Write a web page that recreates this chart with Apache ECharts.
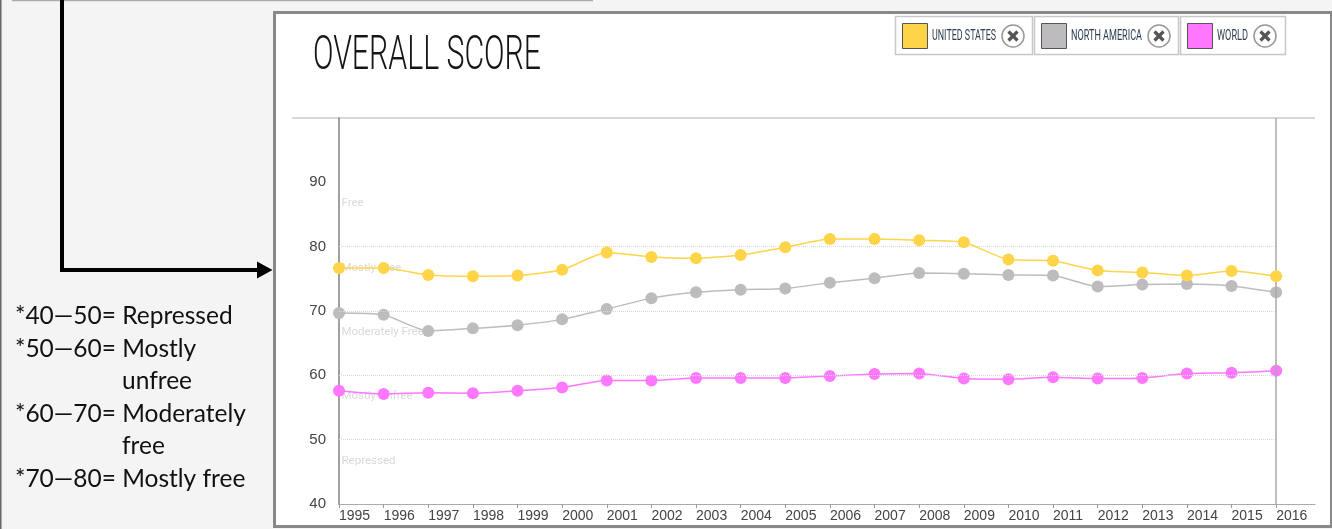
<!DOCTYPE html>
<html><head><meta charset="utf-8">
<script src="https://cdn.jsdelivr.net/npm/echarts@6/dist/echarts.min.js"></script>
<style>html,body{margin:0;padding:0;background:#f4f4f4;}#c{width:1332px;height:529px;}</style>
</head><body><div id="c"></div>
<script>
const years = [1995,1996,1997,1998,1999,2000,2001,2002,2003,2004,2005,2006,2007,2008,2009,2010,2011,2012,2013,2014,2015,2016];
const unitedStates = [76.7,76.7,75.6,75.4,75.5,76.4,79.1,78.4,78.2,78.7,79.9,81.2,81.2,81.0,80.7,78.0,77.8,76.3,76.0,75.5,76.2,75.4];
const northAmerica = [69.7,69.4,66.9,67.3,67.8,68.7,70.3,72.0,72.9,73.3,73.5,74.4,75.1,75.9,75.8,75.6,75.5,73.8,74.1,74.2,73.9,72.9];
const world = [57.6,57.1,57.3,57.2,57.6,58.1,59.2,59.2,59.6,59.6,59.6,59.9,60.2,60.3,59.5,59.4,59.7,59.5,59.6,60.3,60.4,60.7];
const seriesNames = ['UNITED STATES','NORTH AMERICA','WORLD'];
const seriesColors = ['#FFD448','#BDBBBE','#FF78FF'];
const bandNames = ['Free','Mostly Free','Moderately Free','Mostly Unfree','Repressed'];
const bandLevels = [90,80,70,60,50];
const gridLevels = [50,60,70,80];
const yMin = 40, yMax = 100, yStep = 10;
const titleText = 'OVERALL SCORE';
const noteLines = ['*40\u201450= Repressed','*50\u201460= Mostly','unfree','*60\u201470= Moderately','free','*70\u201480= Mostly free'];
const noteIndent = [0,0,1,0,1,0];

const NARROW = '"Liberation Sans Narrow", "Liberation Sans", Arial, sans-serif';
function textWidth(str, font){const c=document.createElement('canvas').getContext('2d');c.font=font;return c.measureText(str).width;}
const titleFont = '300 48px Roboto, "Liberation Sans", sans-serif';
const titleScale = 228 / textWidth(titleText, titleFont);
const legendFont = '14px Roboto, "Liberation Sans", sans-serif';
const legendTextX = [932, 1071, 1217];
const legendTextW = [64, 71, 31];

const chart = echarts.init(document.getElementById('c'));
const dataSeries = [unitedStates, northAmerica, world].map((vals,i)=>({
  name: seriesNames[i], type:'line', smooth:0.2,
  data: years.map((y,k)=>[y, vals[k]]),
  symbol:'circle', symbolSize:12, showSymbol:true,
  itemStyle:{color:seriesColors[i]},
  lineStyle:{color:seriesColors[i], width:1.5},
  z: 5 - i
}));
const lastYear = years[years.length-1];
const bandSeries = {
  name:'bands', type:'scatter', silent:true, symbolSize:1, itemStyle:{color:'rgba(0,0,0,0)'},
  data: bandLevels.map((v,i)=>({value:[years[0], v], name: bandNames[i]})),
  label:{show:true, position:'right', distance:2, offset:[0,21], formatter: p=>p.name,
    fontFamily:'Roboto, "Liberation Sans", sans-serif', fontSize:11.5, color:'#d0d0d0'},
  markLine:{silent:true, symbol:'none', animation:false, label:{show:false},
    lineStyle:{type:'dotted', color:'#d8d8d8', width:1},
    data:[...gridLevels.map(v=>[{coord:[years[0],v]},{coord:[lastYear,v]}]),
      {xAxis:lastYear, lineStyle:{type:'solid', color:'#aaaaaa', width:1.5}}]},
  z:1
};
const legendLeft = [902, 1041, 1187];
const legends = seriesNames.map((n,i)=>({
  data:[n], left:legendLeft[i], top:23, padding:0, icon:'rect', itemWidth:25, itemHeight:25,
  itemStyle:{borderColor:'#555', borderWidth:1}, formatter:()=>'',
  textStyle:{fontSize:1}
}));
const boxes = [[895,137],[1034,144],[1180,105]];
const closeX = [1013,1159,1265];
const graphics = [
  {type:'rect', z:-10, shape:{x:274.5,y:12.5,width:1057,height:514}, style:{fill:'#fff', stroke:'#888', lineWidth:3}},
  {type:'line', shape:{x1:0.5,y1:0,x2:0.5,y2:529}, style:{stroke:'#666', lineWidth:2}},
  {type:'line', shape:{x1:12,y1:0.5,x2:593,y2:0.5}, style:{stroke:'#aaa', lineWidth:1.5}},
  {type:'rect', shape:{x:60,y:0,width:4,height:272}, style:{fill:'#000'}},
  {type:'rect', shape:{x:60,y:268,width:199,height:4}, style:{fill:'#000'}},
  {type:'polygon', shape:{points:[[257,261.5],[272.5,270],[257,278.5]]}, style:{fill:'#000'}},
  {type:'line', shape:{x1:292,y1:118,x2:1315,y2:118}, style:{stroke:'#d8d8d8', lineWidth:2}},
  {type:'text', x:313, y:57, scaleX:titleScale, style:{text:titleText, font:titleFont, fill:'#151515', verticalAlign:'middle'}},
  ...boxes.map(b=>({type:'rect', shape:{x:b[0]+0.5,y:16.5,width:b[1],height:38}, style:{fill:'none', stroke:'#c8c8c8', lineWidth:1.5}})),
  ...seriesNames.map((n,i)=>({type:'text', x:legendTextX[i], y:36, scaleX: legendTextW[i]/textWidth(n, legendFont),
    style:{text:n, font:legendFont, fill:'#2c3e50', verticalAlign:'middle'}})),
  ...closeX.map(cx=>({type:'group', children:[
    {type:'circle', shape:{cx:cx,cy:36,r:11}, style:{fill:'#fff', stroke:'#999', lineWidth:1.5}},
    {type:'line', shape:{x1:cx-4.5,y1:31.5,x2:cx+4.5,y2:40.5}, style:{stroke:'#555', lineWidth:3.2}},
    {type:'line', shape:{x1:cx-4.5,y1:40.5,x2:cx+4.5,y2:31.5}, style:{stroke:'#555', lineWidth:3.2}}
  ]})),
  ...noteLines.map((t,i)=>({type:'text', x: noteIndent[i]?122:15, y:316+i*32.6,
    style:{text:t, font:'24.5px Lato, "Open Sans", sans-serif', fill:'#111', verticalAlign:'middle'}}))
];

chart.setOption({
  animation:false,
  backgroundColor:'#f4f4f4',
  grid:{left:339, right:17, top:118, bottom:25, containLabel:false},
  legend: legends,
  xAxis:{type:'value', min:years[0], max:2016.87, interval:1,
    axisLine:{lineStyle:{color:'#aaa', width:1}},
    axisTick:{show:true, length:4, lineStyle:{color:'#999'}, customValues:years},
    axisLabel:{fontFamily:NARROW, fontSize:14, color:'#444', margin:5, align:'left', customValues:years,
      formatter:v=>Number.isInteger(v)?String(v):''},
    splitLine:{show:false}},
  yAxis:{type:'value', min:yMin, max:yMax, interval:yStep,
    axisLine:{show:true, lineStyle:{color:'#808080', width:1.5}},
    axisTick:{show:false},
    axisLabel:{fontFamily:NARROW, fontSize:15, color:'#444', margin:13, showMaxLabel:false},
    splitLine:{show:false}},
  series:[bandSeries, ...dataSeries],
  graphic: graphics
});
</script></body></html>
